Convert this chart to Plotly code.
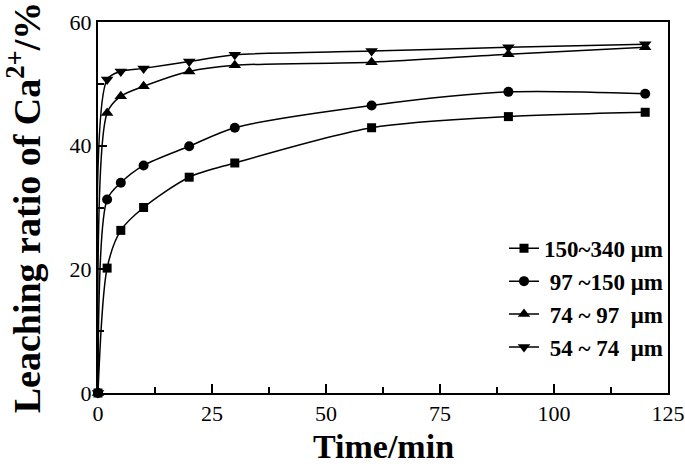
import plotly.graph_objects as go

time_min = [0, 2, 5, 10, 20, 30, 60, 90, 120]
s_150_340 = [0, 20.2, 26.3, 30.0, 34.9, 37.2, 42.9, 44.7, 45.4]
s_97_150 = [0, 31.3, 34.0, 36.8, 39.9, 42.9, 46.5, 48.7, 48.4]
s_74_97 = [0, 45.3, 48.0, 49.6, 52.0, 53.0, 53.5, 54.8, 55.9]
s_54_74 = [0, 50.7, 52.0, 52.5, 53.6, 54.7, 55.3, 55.9, 56.4]

names = ["150~340 μm", " 97 ~150 μm", " 74 ~ 97  μm", " 54 ~ 74  μm"]
series = [s_150_340, s_97_150, s_74_97, s_54_74]
symbols = ["square", "circle", "triangle-up", "triangle-down"]
sizes = [9, 10, 11, 11]

fig = go.Figure()
for nm, ys, sym, sz in zip(names, series, symbols, sizes):
    fig.add_trace(go.Scatter(
        x=time_min, y=ys, name=nm, mode="lines+markers",
        line=dict(color="black", width=1.5, shape="spline", smoothing=0.8),
        marker=dict(symbol=sym, size=sz, color="black"),
        cliponaxis=False,
    ))

serif = "Liberation Serif"
fig.update_layout(
    width=685, height=466,
    margin=dict(l=98, r=17, t=22, b=73),
    plot_bgcolor="white", paper_bgcolor="white",
    font=dict(family=serif, color="black", size=22),
    showlegend=True,
    legend=dict(x=1.0, y=0.448, xanchor="right", yanchor="top",
                bgcolor="rgba(0,0,0,0)", borderwidth=0,
                font=dict(family=serif, size=23, color="black", weight="bold"),
                itemwidth=30),
)
fig.add_annotation(
    text="<b>Time/min</b>", xref="paper", yref="paper", x=0.5, y=0,
    xanchor="center", yanchor="middle", yshift=-53, showarrow=False,
    font=dict(family=serif, size=34, color="black"),
)
fig.update_xaxes(
    range=[0, 125], tickmode="array", tickvals=[0, 25, 50, 75, 100, 125],
    ticks="inside", ticklen=9, tickwidth=1.5, tickcolor="black",
    minor=dict(ticks="inside", tickvals=[12.5, 37.5, 62.5, 87.5, 112.5], ticklen=6, tickwidth=1.5, tickcolor="black"),
    showline=True, linewidth=2, linecolor="black", mirror=True,
    showgrid=False, zeroline=False, automargin=False,
    tickfont=dict(family=serif, size=22),
)
fig.update_yaxes(
    range=[0, 60], tickmode="array", tickvals=[0, 20, 40, 60],
    ticks="inside", ticklen=9, tickwidth=1.5, tickcolor="black",
    minor=dict(ticks="inside", tickvals=[10, 30, 50], ticklen=6, tickwidth=1.5, tickcolor="black"),
    showline=True, linewidth=2, linecolor="black", mirror=True,
    showgrid=False, zeroline=False, automargin=False,
    tickfont=dict(family=serif, size=22),
    title=dict(text="<b>Leaching ratio of Ca<sup>2+</sup>/%</b>", font=dict(family=serif, size=38), standoff=30),
)
fig.write_html("out.html", config={"displayModeBar": False},
               post_script="document.body.style.margin='0';document.body.style.overflow='hidden';")
